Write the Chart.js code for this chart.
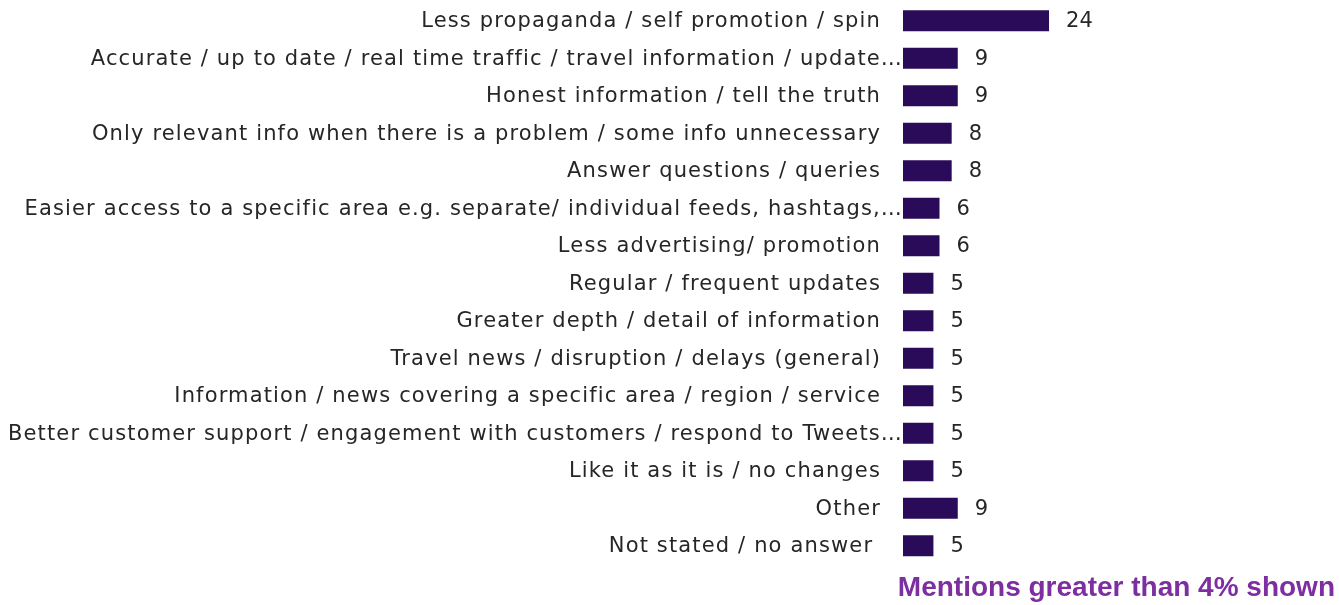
<!DOCTYPE html>
<html>
<head>
<meta charset="utf-8">
<script src="https://cdn.jsdelivr.net/npm/chart.js@4/dist/chart.umd.min.js"></script>
<style>
  html, body { margin: 0; padding: 0; background: #ffffff; }
  #wrap { width: 1339px; height: 605px; position: relative; }
</style>
</head>
<body>
<div id="wrap"><canvas id="chart"></canvas></div>
<script>
// Suggested improvements, number of mentions
const categories = [
  'Less propaganda / self promotion / spin',
  'Accurate / up to date / real time traffic / travel information / update\u2026',
  'Honest information / tell the truth',
  'Only relevant info when there is a problem / some info unnecessary',
  'Answer questions / queries',
  'Easier access to a specific area e.g. separate/ individual feeds, hashtags,\u2026',
  'Less advertising/ promotion',
  'Regular / frequent updates',
  'Greater depth / detail of information',
  'Travel news / disruption / delays (general)',
  'Information / news covering a specific area / region / service',
  'Better customer support / engagement with customers / respond to Tweets\u2026',
  'Like it as it is / no changes',
  'Other',
  'Not stated / no answer '
];
const mentions = [24, 9, 9, 8, 8, 6, 6, 5, 5, 5, 5, 5, 5, 9, 5];
const footnote = 'Mentions greater than 4% shown';

const LABEL_FONT = '21px "DejaVu Sans"';
const VALUE_FONT = '21px "DejaVu Sans"';
const TEXT_COLOR = '#262626';

// Category names to the left of the bars and counts to the right of them
const sideLabels = {
  id: 'sideLabels',
  afterDatasetsDraw(chart) {
    const ctx = chart.ctx;
    const yScale = chart.scales.y;
    const meta = chart.getDatasetMeta(0);
    const left = chart.chartArea.left;
    ctx.save();
    ctx.fillStyle = TEXT_COLOR;
    ctx.textBaseline = 'middle';
    categories.forEach((name, i) => {
      const y = yScale.getPixelForTick(i) + 1;
      const clipped = name.endsWith('\u2026');
      ctx.font = LABEL_FONT;
      ctx.letterSpacing = '1.15px';
      ctx.textAlign = 'right';
      ctx.fillText(name, clipped ? left : left - 22, y);
      const bar = meta.data[i];
      ctx.font = VALUE_FONT;
      ctx.letterSpacing = '0px';
      ctx.textAlign = 'left';
      ctx.fillText(String(mentions[i]), bar.x + 17, y);
    });
    ctx.restore();
  }
};

new Chart(document.getElementById('chart'), {
  type: 'bar',
  data: {
    labels: categories,
    datasets: [{
      data: mentions,
      backgroundColor: '#2a0b5a',
      borderWidth: 0,
      barPercentage: 0.56,
      categoryPercentage: 1
    }]
  },
  options: {
    indexAxis: 'y',
    responsive: true,
    maintainAspectRatio: false,
    animation: false,
    layout: { padding: { left: 0, right: 4, top: 2, bottom: 0 } },
    scales: {
      x: { display: false, min: 0, max: 71 },
      y: {
        display: true,
        ticks: { display: false },
        grid: { display: false, drawTicks: false },
        border: { display: false },
        afterFit(scale) { scale.width = 903; }
      }
    },
    plugins: {
      legend: { display: false },
      tooltip: { enabled: false },
      title: {
        display: true,
        position: 'bottom',
        align: 'end',
        text: footnote,
        color: '#7d2ea0',
        font: { family: '"Liberation Sans", Arial, sans-serif', size: 28, weight: 'bold', lineHeight: 1.16 },
        padding: { top: 8, bottom: 0 }
      }
    }
  },
  plugins: [sideLabels]
});
</script>
</body>
</html>
